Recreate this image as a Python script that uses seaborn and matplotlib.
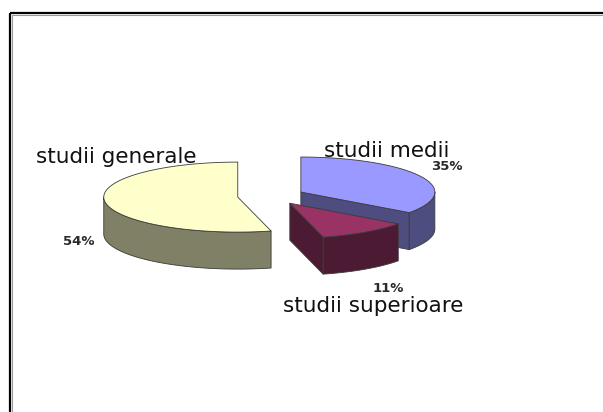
import numpy as np
import matplotlib
matplotlib.use("Agg")
import matplotlib.pyplot as plt
from matplotlib.patches import Polygon, Rectangle
import seaborn as sns

# Education level shares, listed clockwise starting from 12 o'clock
categories = ["studii medii", "studii superioare", "studii generale"]
shares = [35, 11, 54]
top_colors = ["#9999FF", "#993366", "#FFFFCC"]
side_colors = ["#4D4D80", "#4D1A33", "#808066"]

# label anchors (canvas pixels): category name and percentage
name_pos = {"studii medii": (387, 157), "studii superioare": (373, 312),
            "studii generale": (116, 163)}
pct_pos = {"studii medii": (447, 166), "studii superioare": (388, 289),
           "studii generale": (79, 241)}

sns.set_theme(style="white")
plt.rcParams["font.family"] = ["DejaVu Sans"]

W, H = 603, 412
fig = plt.figure(figsize=(W / 100, H / 100), dpi=100)
ax = fig.add_axes([0, 0, 1, 1])
ax.set_xlim(0, W)
ax.set_ylim(H, 0)
ax.axis("off")

# chart frame (open on the right and bottom)
ax.add_patch(Rectangle((10, 13), 1000, 1000, fill=False, edgecolor="black", lw=1.6))
ax.add_patch(Rectangle((12, 15), 1000, 1000, fill=False, edgecolor="#9a9a9a", lw=0.8))

# 3-D pie geometry
cx, cy = 271, 196        # pie centre
rx, ry = 134, 35         # ellipse radii of the top face
depth = 37               # thickness of the pie
explode = 0.25
edge_kw = dict(edgecolor="#3a3a3a", linewidth=0.6, joinstyle="round")

fractions = np.array(shares, dtype=float) / sum(shares)
ends = 90 - 360 * np.cumsum(fractions)
starts = np.concatenate([[90.0], ends[:-1]])


def rim(theta, ox, oy, dz=0.0):
    t = np.radians(theta)
    return np.column_stack([ox + rx * np.cos(t), oy - ry * np.sin(t) + dz])


slices = []
for i, cat in enumerate(categories):
    lo, hi = ends[i], starts[i]
    mid = np.radians((lo + hi) / 2)
    ox = cx + explode * rx * np.cos(mid)
    oy = cy - explode * ry * np.sin(mid)
    slices.append((oy, i, lo, hi, ox))

for oy, i, lo, hi, ox in sorted(slices):
    side = side_colors[i]
    # radial cut faces that face the viewer
    for ang, normal in ((lo, lo - 90), (hi, hi + 90)):
        if np.sin(np.radians(normal)) < -1e-6:
            p = rim([ang], ox, oy)[0]
            quad = [(ox, oy), tuple(p), (p[0], p[1] + depth), (ox, oy + depth)]
            ax.add_patch(Polygon(quad, closed=True, facecolor=side, **edge_kw))
    # curved outer wall on the front half
    for k in (-1, 0, 1):
        a0 = max(lo, -180 + 360 * k)
        a1 = min(hi, 0 + 360 * k)
        if a1 > a0:
            th = np.linspace(a0, a1, 120)
            top = rim(th, ox, oy)
            bot = rim(th[::-1], ox, oy, depth)
            ax.add_patch(Polygon(np.vstack([top, bot]), closed=True,
                                 facecolor=side, **edge_kw))
    # top face
    th = np.linspace(lo, hi, 240)
    face = np.vstack([[ox, oy], rim(th, ox, oy)])
    ax.add_patch(Polygon(face, closed=True, facecolor=top_colors[i], **edge_kw))

for cat, v in zip(categories, shares):
    x, y = name_pos[cat]
    ax.text(x, y, cat, ha="center", va="baseline", fontsize=15.5, color="#111111")
    px, py = pct_pos[cat]
    ax.text(px, py, f"{v}%", ha="center", va="center", fontsize=9.5,
            fontweight="bold", color="#2a2a2a")

fig.savefig("out.png", dpi=100)
